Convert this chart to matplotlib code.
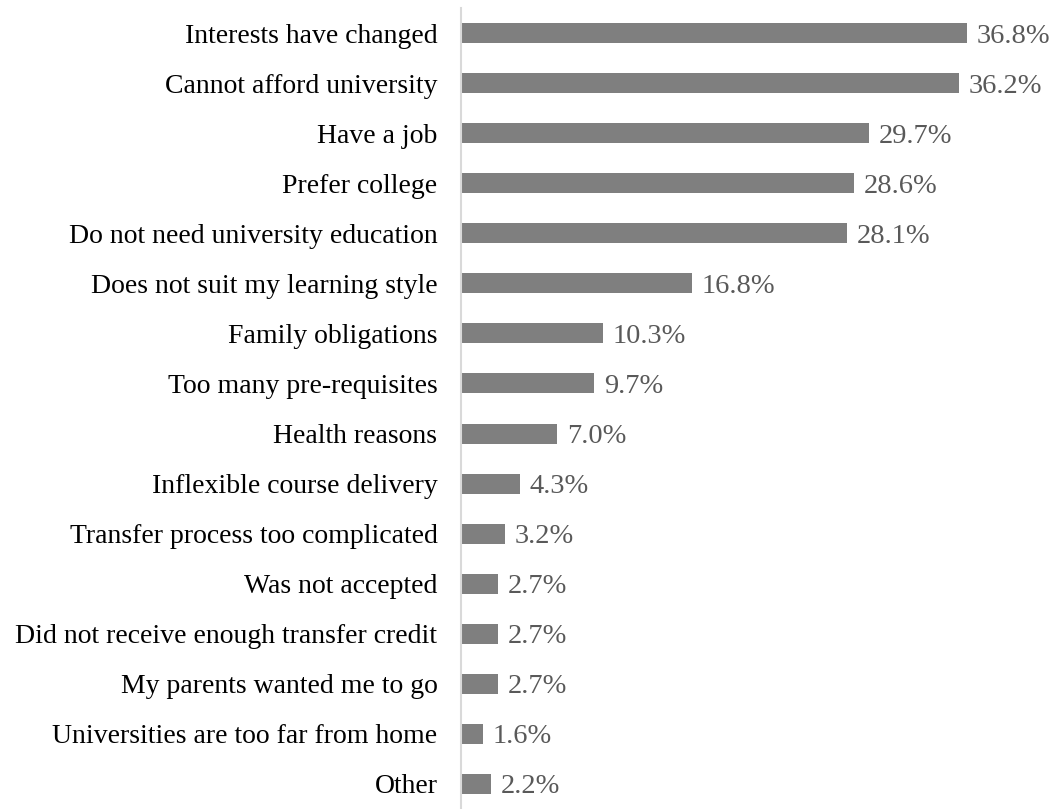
import matplotlib.pyplot as plt

plt.rcParams['font.family'] = ['Liberation Serif', 'DejaVu Serif']

# reasons and share of respondents (%)
reasons = [
    "Interests have changed",
    "Cannot afford university",
    "Have a job",
    "Prefer college",
    "Do not need university education",
    "Does not suit my learning style",
    "Family obligations",
    "Too many pre-requisites",
    "Health reasons",
    "Inflexible course delivery",
    "Transfer process too complicated",
    "Was not accepted",
    "Did not receive enough transfer credit",
    "My parents wanted me to go",
    "Universities are too far from home",
    "Other",
]
percent = [36.8, 36.2, 29.7, 28.6, 28.1, 16.8, 10.3, 9.7, 7.0, 4.3, 3.2, 2.7, 2.7, 2.7, 1.6, 2.2]

fig = plt.figure(figsize=(10.57, 8.09), dpi=100)
ax = fig.add_axes([461 / 1057, 0.0, 1 - 461 / 1057, 1 - 8 / 809])

ypos = list(range(len(reasons)))
ax.barh(ypos, percent, height=0.4, color='#7f7f7f')

for y, v in zip(ypos, percent):
    ax.text(v + 0.7, y, f"{v:.1f}%", va='center_baseline', ha='left',
            fontsize=20.5, color='#595959')

ax.set_yticks(ypos)
ax.set_yticklabels(reasons, fontsize=20.0, color='#000000', va='center_baseline')
ax.tick_params(axis='y', length=0, pad=17)
ax.set_xticks([])
ax.set_xlim(0, 43.35)
ax.set_ylim(15.5, -0.5)

for s in ['top', 'right', 'bottom']:
    ax.spines[s].set_visible(False)
ax.spines['left'].set_color('#d9d9d9')
ax.spines['left'].set_linewidth(1.5)

fig.savefig('out.png', dpi=100)
